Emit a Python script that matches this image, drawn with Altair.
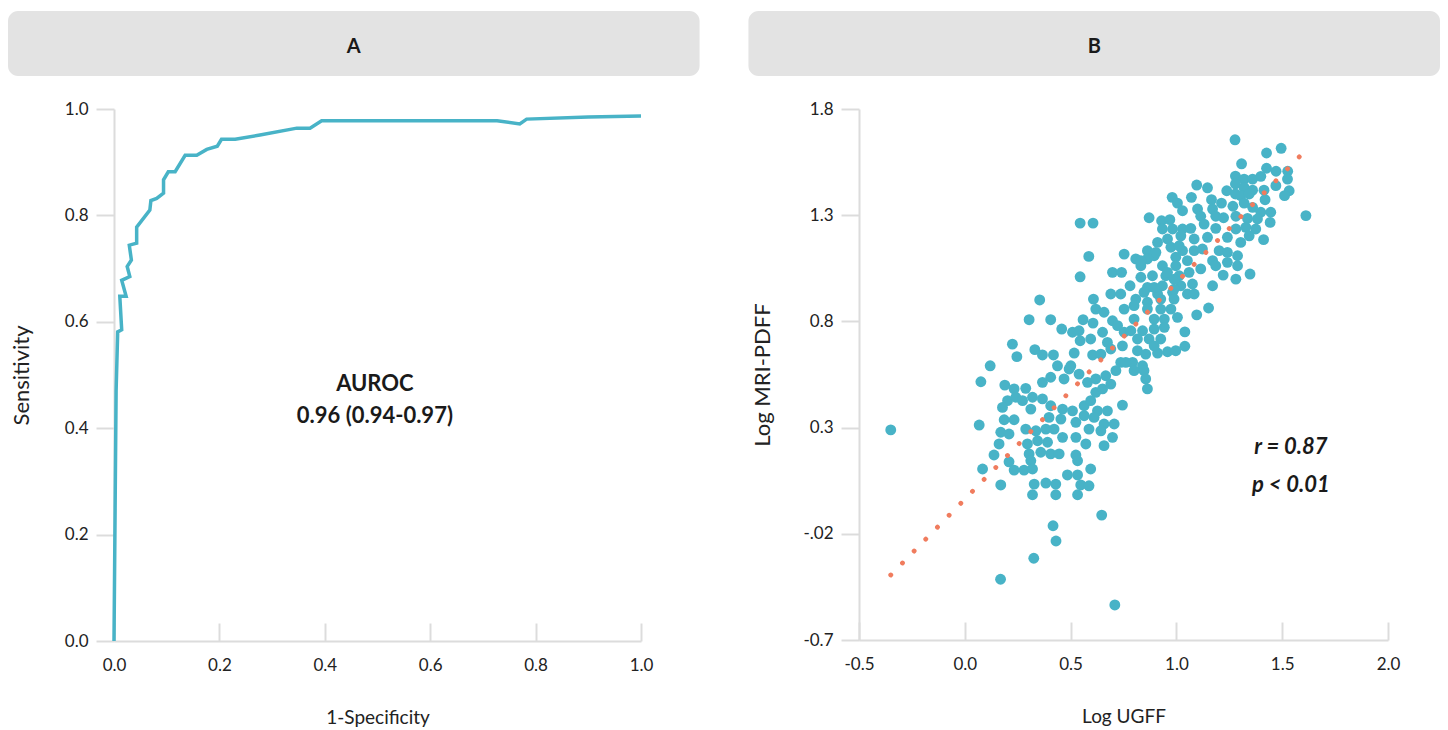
import altair as alt
import pandas as pd

# ---------------- data ----------------
panels = ["A", "B"]

roc_fpr = [0.0, 0.004, 0.007, 0.0146, 0.011, 0.023, 0.0146, 0.030, 0.025, 0.033, 0.029,
           0.043, 0.043, 0.068, 0.070, 0.081, 0.094, 0.094, 0.103, 0.116, 0.135, 0.157,
           0.176, 0.196, 0.204, 0.230, 0.277, 0.347, 0.372, 0.394, 0.448, 0.727, 0.77,
           0.783, 0.90, 1.0]
roc_tpr = [0.0, 0.47, 0.581, 0.585, 0.648, 0.648, 0.678, 0.685, 0.704, 0.716, 0.744,
           0.748, 0.778, 0.810, 0.828, 0.832, 0.842, 0.867, 0.882, 0.882, 0.913, 0.913,
           0.924, 0.930, 0.943, 0.943, 0.951, 0.964, 0.964, 0.978, 0.978, 0.978, 0.972,
           0.981, 0.985, 0.987]

ugff = [1.277, 1.495, 1.426, 1.308, 1.426, 1.471, 1.526, 1.279, 1.320, 1.360, 1.399, 1.525, 1.279, 1.320,
        1.360, 1.414, 1.470, 1.533, 1.511, 1.238, 1.096, 1.147, 1.279, 1.304, 1.344, 1.419, 0.980, 1.071,
        1.005, 1.166, 1.213, 1.267, 1.320, 1.360, 1.399, 1.446, 1.029, 1.100, 1.171, 1.612, 0.871, 1.115,
        1.186, 1.223, 1.281, 1.336, 1.383, 1.443, 0.930, 0.969, 0.934, 0.982, 1.029, 1.068, 1.131, 1.186,
        1.281, 1.328, 1.375, 0.911, 0.958, 1.021, 1.084, 1.147, 1.241, 1.304, 1.344, 1.412, 0.863, 0.974,
        1.029, 1.084, 1.123, 1.202, 1.241, 0.753, 0.808, 0.863, 0.895, 0.997, 1.052, 1.171, 1.241, 1.289,
        0.832, 0.934, 0.997, 1.115, 1.186, 1.289, 0.698, 0.741, 0.832, 0.887, 0.950, 1.013, 1.060, 1.221,
        1.281, 1.348, 0.781, 0.863, 0.934, 1.021, 1.076, 1.171, 0.690, 0.737, 0.847, 0.911, 0.982, 1.052,
        1.084,
        0.545, 0.606, 0.586, 0.545, 0.354, 0.608, 0.304, 0.406, 0.619, 0.658, 0.698, 0.559, 0.606, 0.458,
        0.509, 0.540, 0.545, 0.595, 0.651, 0.674, 0.722, 0.753, 0.225, 0.331, 0.246, 0.367, 0.419, 0.517,
        0.604, 0.643, 0.690, 0.745, 0.816, 0.855, 0.911, 0.958, 0.997, 0.120, 0.438, 0.501, 0.737, 0.793,
        0.840,
        1.013, 0.903, 0.832, 0.958, 0.989, 0.895, 0.989, 0.808, 0.863, 0.926, 0.989, 0.753, 0.800, 0.863,
        0.926, 0.974, 0.800, 0.895, 0.943, 1.005, 0.785, 0.840, 0.895, 0.943, 0.871, 0.926, 0.816, 0.895,
        1.040, 1.040, 1.152, 1.096,
        0.076, 0.189, 0.233, 0.288, 0.367, 0.406, 0.493, 0.540, 0.469, 0.580, 0.619, 0.666, 0.714, 0.761,
        0.800, 0.847, 0.855, 0.863, 0.202, 0.241, 0.273, 0.320, 0.367, 0.406, 0.178, 0.312, 0.462, 0.509,
        0.564, 0.595, 0.619, 0.651, 0.690, 0.627, 0.674, 0.745, 0.068, 0.186, 0.233, 0.398, 0.454, 0.525,
        0.564, 0.611, 0.658, 0.706, 0.170, 0.209, 0.288, 0.336, 0.383, 0.422, 0.462, 0.525, 0.587, 0.643,
        0.698, 0.572, 0.658, 0.162, 0.138, 0.296, 0.344, 0.391, 0.304, 0.359, 0.406, 0.446, 0.525, 0.209,
        0.312, 0.533, 0.084, 0.233, 0.280, 0.320, 0.485, 0.533, 0.595, 0.170, 0.328, 0.383, 0.430, 0.548,
        0.587, 0.320, 0.430, 0.533,
        0.647, 0.417, 0.431, 0.326, 0.169, 0.709, -0.350]

pdff = [1.655, 1.615, 1.593, 1.542, 1.521, 1.507, 1.507, 1.484, 1.470, 1.470, 1.483, 1.470, 1.447, 1.431,
        1.418, 1.418, 1.439, 1.415, 1.392, 1.415, 1.442, 1.429, 1.400, 1.392, 1.400, 1.373, 1.384, 1.384,
        1.357, 1.373, 1.357, 1.342, 1.357, 1.337, 1.314, 1.314, 1.321, 1.329, 1.329, 1.298, 1.288, 1.295,
        1.295, 1.288, 1.295, 1.285, 1.282, 1.266, 1.274, 1.279, 1.235, 1.235, 1.235, 1.238, 1.258, 1.238,
        1.235, 1.243, 1.235, 1.172, 1.188, 1.203, 1.188, 1.196, 1.196, 1.172, 1.203, 1.185, 1.133, 1.149,
        1.133, 1.133, 1.141, 1.133, 1.125, 1.117, 1.094, 1.094, 1.109, 1.102, 1.086, 1.086, 1.078, 1.109,
        1.062, 1.062, 1.062, 1.047, 1.062, 1.062, 1.031, 1.031, 1.008, 1.015, 1.015, 1.015, 1.031, 1.018,
        0.999, 1.023, 0.968, 0.960, 0.968, 0.968, 0.976, 0.968, 0.929, 0.929, 0.937, 0.929, 0.937, 0.929,
        0.929,
        1.263, 1.263, 1.106, 1.010, 0.901, 0.905, 0.808, 0.808, 0.858, 0.843, 0.803, 0.808, 0.792, 0.764,
        0.749, 0.756, 0.709, 0.717, 0.749, 0.701, 0.780, 0.749, 0.693, 0.667, 0.634, 0.642, 0.642, 0.651,
        0.642, 0.646, 0.670, 0.685, 0.662, 0.646, 0.651, 0.657, 0.662, 0.591, 0.591, 0.591, 0.607, 0.607,
        0.591,
        1.156, 1.125, 1.086, 1.031, 0.999, 0.960, 0.952, 0.905, 0.890, 0.905, 0.905, 0.858, 0.874, 0.858,
        0.858, 0.858, 0.811, 0.811, 0.811, 0.819, 0.756, 0.756, 0.764, 0.772, 0.717, 0.717, 0.717, 0.685,
        0.751, 0.683, 0.863, 0.831,
        0.516, 0.500, 0.482, 0.485, 0.513, 0.537, 0.576, 0.552, 0.529, 0.513, 0.529, 0.544, 0.568, 0.607,
        0.568, 0.568, 0.529, 0.482, 0.427, 0.443, 0.427, 0.443, 0.435, 0.403, 0.395, 0.387, 0.387, 0.379,
        0.403, 0.427, 0.466, 0.482, 0.505, 0.379, 0.379, 0.406, 0.312, 0.337, 0.337, 0.348, 0.340, 0.325,
        0.356, 0.348, 0.317, 0.317, 0.278, 0.270, 0.293, 0.285, 0.293, 0.293, 0.254, 0.254, 0.293, 0.285,
        0.254, 0.223, 0.215, 0.223, 0.171, 0.223, 0.238, 0.231, 0.176, 0.184, 0.176, 0.176, 0.171, 0.139,
        0.144, 0.144, 0.105, 0.100, 0.100, 0.105, 0.077, 0.077, 0.105, 0.030, 0.034, 0.039, 0.034, 0.030,
        0.026, -0.016, -0.016, -0.016,
        -0.112, -0.162, -0.234, -0.315, -0.414, -0.535, 0.289]

fit_x = [-0.350, 1.627]
fit_y = [-0.394, 1.622]

auroc_lines = ["AUROC", "0.96 (0.94-0.97)"]
auroc_x = [0.495, 0.495]
auroc_y = [0.483, 0.423]

stat_lines = ["r = 0.87", "p < 0.01"]
stat_x = [1.541, 1.541]
stat_y = [0.209, 0.030]

a_ticks = [0.0, 0.2, 0.4, 0.6, 0.8, 1.0]
bx_ticks = [-0.5, 0.0, 0.5, 1.0, 1.5, 2.0]
by_ticks = [-0.7, -0.2, 0.3, 0.8, 1.3, 1.8]

# ---------------- style ----------------
FONT = "Lato"
TEAL = "#48b3c7"
CORAL = "#f07c5e"
GRAY = "#dcdcdc"
INK = "#1a1a1a"

W_A, H_A = 527, 532
W_B, H_B = 529, 531

HYPHEN_FMT = "replace(format(datum.value, '.1f'), '\u2212', '-')"
B_Y_FMT = "abs(datum.value + 0.2) < 0.001 ? '-.02' : " + HYPHEN_FMT

roc_df = pd.DataFrame({"fpr": roc_fpr, "tpr": roc_tpr, "order": list(range(len(roc_fpr)))})
sc_df = pd.DataFrame({"ugff": ugff, "pdff": pdff})
fit_df = pd.DataFrame({"ugff": fit_x, "pdff": fit_y})
auroc_df = pd.DataFrame({"x": auroc_x, "y": auroc_y, "label": auroc_lines})
stat_df = pd.DataFrame({"x": stat_x, "y": stat_y, "label": stat_lines})
hdr_df = pd.DataFrame({"panel": panels})

# ---------------- panel A ----------------
xA = alt.Scale(domain=[0, 1], nice=False, zero=False)
yA = alt.Scale(domain=[0, 1], nice=False, zero=False)

roc_line = alt.Chart(roc_df).mark_line(color=TEAL, strokeWidth=3.5).encode(
    x=alt.X("fpr:Q", scale=xA,
            axis=alt.Axis(orient="bottom", values=a_ticks, labelExpr=HYPHEN_FMT, title="1-Specificity",
                          ticks=False, labelPadding=16, titlePadding=35)),
    y=alt.Y("tpr:Q", scale=yA,
            axis=alt.Axis(values=a_ticks, labelExpr=HYPHEN_FMT, title="Sensitivity",
                          titleFontSize=22, tickSize=18, labelPadding=8, titlePadding=31)),
    order="order:Q",
)
roc_text = alt.Chart(auroc_df).mark_text(fontSize=22, fontWeight="bold", font=FONT, color=INK).encode(
    x=alt.X("x:Q", scale=xA,
            axis=alt.Axis(orient="top", offset=-H_A, values=a_ticks, labels=False, domain=False,
                          ticks=True, tickSize=18, title=None)),
    y=alt.Y("y:Q", scale=yA),
    text="label:N",
)
panelA = alt.layer(roc_line, roc_text).resolve_axis(x="independent").properties(width=W_A, height=H_A)

# ---------------- panel B ----------------
xB = alt.Scale(domain=[-0.5, 2.0], nice=False, zero=False)
yB = alt.Scale(domain=[-0.7, 1.8], nice=False, zero=False)

pts = alt.Chart(sc_df).mark_circle(color=TEAL, size=118, opacity=1).encode(
    x=alt.X("ugff:Q", scale=xB,
            axis=alt.Axis(orient="bottom", values=bx_ticks, labelExpr=HYPHEN_FMT, title="Log UGFF",
                          ticks=False, labelPadding=16, titlePadding=35)),
    y=alt.Y("pdff:Q", scale=yB,
            axis=alt.Axis(values=by_ticks, title="Log MRI-PDFF", titleFontSize=22, tickSize=18,
                          labelPadding=8, titlePadding=28, labelExpr=B_Y_FMT)),
)
fit = alt.Chart(fit_df).mark_line(color=CORAL, strokeWidth=4.8, strokeCap="round",
                                  strokeDash=[0.1, 16.6]).encode(
    x=alt.X("ugff:Q", scale=xB, axis=None),
    y=alt.Y("pdff:Q", scale=yB),
)
stat_text = alt.Chart(stat_df).mark_text(fontSize=22, fontWeight="bold", fontStyle="italic",
                                         font=FONT, color=INK).encode(
    x=alt.X("x:Q", scale=xB,
            axis=alt.Axis(orient="top", offset=-H_B, values=bx_ticks, labels=False, domain=False,
                          ticks=True, tickSize=18, title=None)),
    y=alt.Y("y:Q", scale=yB),
    text="label:N",
)
panelB = alt.layer(pts, fit, stat_text).resolve_axis(x="independent").properties(width=W_B, height=H_B)

# ---------------- header ----------------
# header bars start at the page edge, i.e. 106px left of panel A's plot origin
hx = alt.X("panel:N", scale=alt.Scale(domain=panels, range=[-106, 1326], paddingInner=0.066,
                                      paddingOuter=0), axis=None)
hdr = alt.layer(
    alt.Chart(hdr_df).mark_rect(color="#e3e3e3", cornerRadius=10).encode(x=hx),
    alt.Chart(hdr_df).mark_text(fontSize=20, fontWeight="bold", font=FONT, color=INK, dy=3).encode(
        x=hx, text="panel:N"),
).properties(width=1326, height=65)

chart = alt.vconcat(
    hdr,
    alt.hconcat(panelA, panelB, spacing=98),
    spacing=24,
).properties(
    padding={"left": 0, "top": 3, "right": 0, "bottom": 0}
).configure_view(stroke=None).configure_axis(
    grid=False,
    labelFlush=False,
    domainColor=GRAY, domainWidth=2,
    tickColor=GRAY, tickWidth=2,
    labelFont=FONT, labelFontSize=17, labelColor="#222222",
    titleFont=FONT, titleFontSize=19, titleFontWeight="normal", titleColor="#222222",
)

chart.save("out.html", embed_options={"renderer": "svg", "actions": False})
